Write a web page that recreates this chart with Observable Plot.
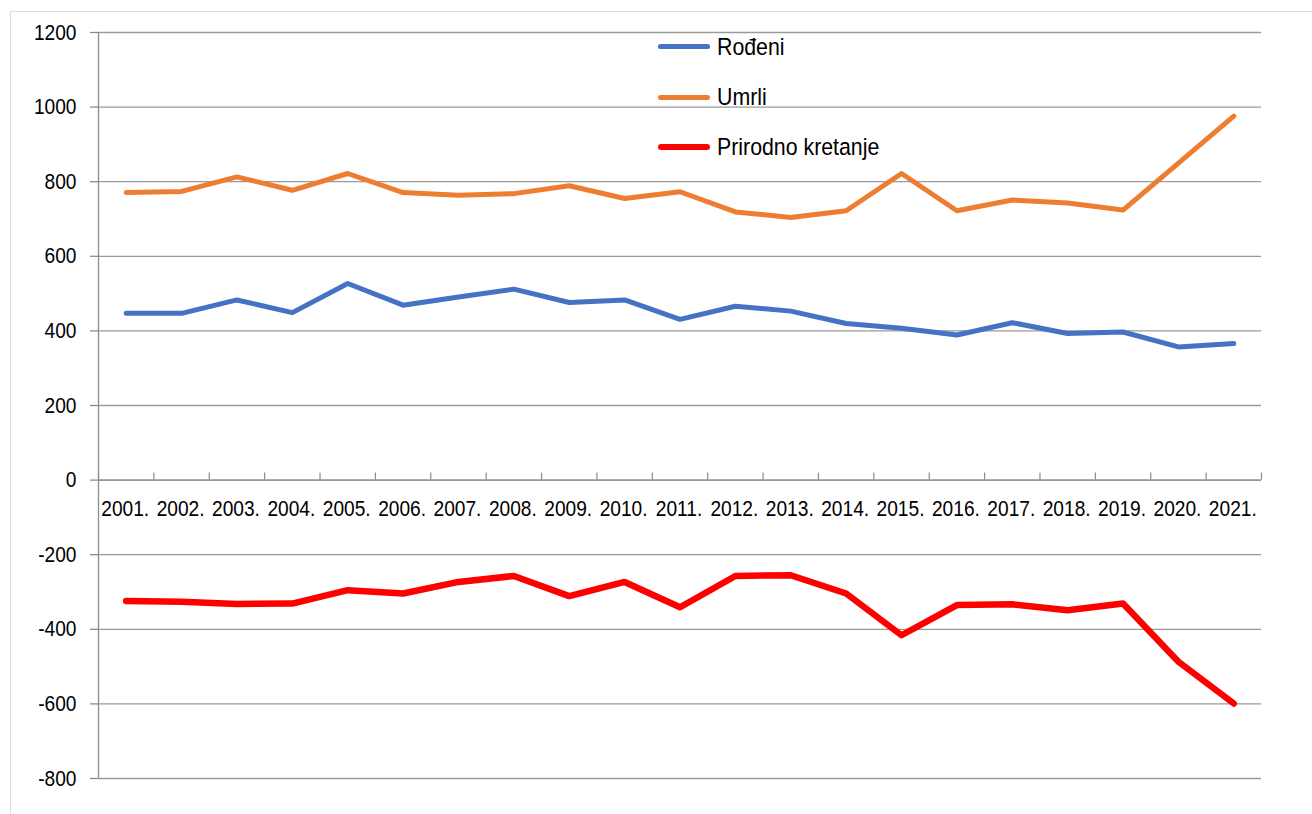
<!DOCTYPE html>
<html>
<head>
<meta charset="utf-8">
<script src="https://cdn.jsdelivr.net/npm/d3@7"></script>
<script src="https://cdn.jsdelivr.net/npm/@observablehq/plot@0.6"></script>
<style>
  html, body { margin: 0; padding: 0; background: #fff; }
  #wrap { position: relative; width: 1312px; height: 814px; overflow: hidden; font-family: "Liberation Sans", Arial, sans-serif; }
  #border { position: absolute; left: 10px; top: 11px; width: 1320px; height: 830px; border: 1px solid #dcdcdc; box-sizing: border-box; }
  #chart { position: absolute; left: 0; top: 0; }
  #legend { position: absolute; left: 658px; top: 0; font-size: 24.5px; color: #000; }
  .item { position: absolute; left: 0; display: flex; align-items: center; white-space: nowrap; transform: translateY(-50%); }
  .sw { width: 52px; height: 5px; border-radius: 3px; margin-right: 7px; flex: none; }
  .lt { display: inline-block; transform: scaleX(0.87); transform-origin: left center; }
</style>
</head>
<body>
<div id="wrap">
  <div id="border"></div>
  <div id="chart"></div>
  <div id="legend"></div>
</div>
<script>
const years = [2001,2002,2003,2004,2005,2006,2007,2008,2009,2010,2011,2012,2013,2014,2015,2016,2017,2018,2019,2020,2021];
const rodjeni = [447,447,483,449,527,469,491,512,476,483,431,466,453,420,407,389,422,393,397,357,366];
const umrli   = [771,774,813,777,822,771,764,768,789,755,773,719,704,722,822,722,751,743,724,850,976];
const prirodno = [-324,-326,-332,-331,-295,-304,-273,-257,-311,-273,-341,-257,-255,-304,-416,-335,-333,-349,-331,-487,-599];
const seriesNames = ["Rođeni", "Umrli", "Prirodno kretanje"];
const seriesColors = ["#4472C4", "#ED7D31", "#FF0000"];
const seriesWidths = [5, 5, 6.5];
const yTicks = [-800,-600,-400,-200,0,200,400,600,800,1000,1200];

const seriesValues = [rodjeni, umrli, prirodno];
const rows = [];
seriesNames.forEach((name, s) => {
  years.forEach((yr, i) => rows.push({series: name, year: yr, value: seriesValues[s][i]}));
});
const boundaries = d3.range(years.length + 1).map(i => years[0] - 0.5 + i);
const font = "'Liberation Sans', Arial, sans-serif";

const chart = Plot.plot({
  width: 1312,
  height: 814,
  marginLeft: 98,
  marginRight: 51,
  marginTop: 32,
  marginBottom: 36,
  style: {fontFamily: font, fontSize: "22px", color: "#000", background: "transparent"},
  x: {type: "linear", domain: [years[0] - 0.5, years[years.length - 1] + 0.5], axis: null},
  y: {domain: [-800, 1200]},
  marks: [
    Plot.gridY(yTicks, {stroke: "#9a9a9a", strokeOpacity: 1, strokeWidth: 1.3}),
    Plot.axisY(yTicks, {tickSize: 8, tickPadding: 14, stroke: "#8c8c8c", strokeWidth: 1.3, fill: "#000", fontSize: 22, label: null, tickFormat: d => String(d)}),
    Plot.ruleX([years[0] - 0.5], {stroke: "#8c8c8c", strokeWidth: 1.3}),
    Plot.ruleY([0], {stroke: "#8c8c8c", strokeWidth: 1.3}),
    Plot.ruleX(boundaries, {x: d => d, y1: 0, y2: 19, stroke: "#8c8c8c", strokeWidth: 1.2}),
    Plot.text(years, {x: d => d, y: 0, text: d => d + ".", dy: 29, dx: -1, fontSize: 22, fill: "#000"}),
    ...seriesNames.map((name, s) =>
      Plot.line(rows.filter(r => r.series === name), {
        x: "year", y: "value", stroke: seriesColors[s], strokeWidth: seriesWidths[s],
        strokeLinecap: "round", strokeLinejoin: "round"
      })
    )
  ]
});
document.getElementById("chart").appendChild(chart);

// condense the Arial-like glyphs horizontally (the reference uses a narrow face)
chart.querySelectorAll("text").forEach(t => {
  const len = t.getComputedTextLength();
  if (len > 0) {
    t.setAttribute("textLength", (len * 0.87).toFixed(2));
    t.setAttribute("lengthAdjust", "spacingAndGlyphs");
  }
});

const legend = document.getElementById("legend");
const legendCenters = [46.5, 97, 147];
seriesNames.forEach((name, s) => {
  const it = document.createElement("div");
  it.className = "item";
  it.style.top = legendCenters[s] + "px";
  const sw = document.createElement("div");
  sw.className = "sw";
  sw.style.background = seriesColors[s];
  sw.style.height = (s === 2 ? 6 : 5) + "px";
  const tx = document.createElement("span");
  tx.className = "lt";
  tx.textContent = name;
  it.appendChild(sw);
  it.appendChild(tx);
  legend.appendChild(it);
});
</script>
</body>
</html>
